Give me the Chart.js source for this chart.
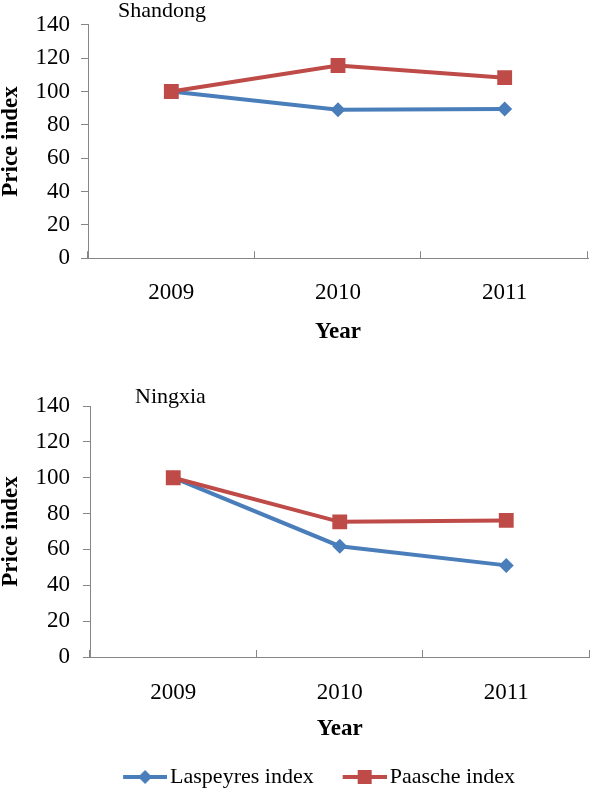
<!DOCTYPE html>
<html>
<head>
<meta charset="utf-8">
<script src="https://cdn.jsdelivr.net/npm/chart.js@4/dist/chart.umd.min.js"></script>
<style>
  html, body { margin: 0; padding: 0; background: #fff; overflow: hidden; width: 600px; height: 793px; }
  canvas { position: absolute; left: 0; }
  #c1 { top: 0; }
  #c2 { top: 377px; }
</style>
</head>
<body>
<canvas id="c1" width="600" height="377"></canvas>
<canvas id="c2" width="600" height="422"></canvas>
<script>
// ---- data ----
const years = ['2009', '2010', '2011'];
const seriesNames = ['Laspeyres index', 'Paasche index'];
const shandongLaspeyres = [100, 89.0, 89.5];
const shandongPaasche = [100, 115.6, 108.3];
const ningxiaLaspeyres = [100, 61.8, 51.1];
const ningxiaPaasche = [100, 75.4, 76.2];
const panelNames = ['Shandong', 'Ningxia'];
const yTicksMin = 0, yTicksMax = 140, yTicksStep = 20;
const xTitle = 'Year';
const yTitle = 'Price index';

// ---- styles ----
const BLUE = '#4A7EBB';
const RED = '#BE4B48';
const AXIS = '#868686';
const FONT = "'Liberation Serif', 'Times New Roman', serif";
const FS = 23;

Chart.defaults.font.family = FONT;
Chart.defaults.color = '#000';

const innerTicks = {
  id: 'innerTicks',
  afterDraw(chart) {
    const xs = chart.scales.x, ctx = chart.ctx, y0 = chart.chartArea.bottom;
    ctx.save();
    ctx.strokeStyle = AXIS; ctx.lineWidth = 1;
    for (let i = 0; i <= xs.ticks.length; i++) {
      const px = Math.round(xs.getPixelForValue(i - 0.5)) - 0.5;
      ctx.beginPath(); ctx.moveTo(px, y0); ctx.lineTo(px, y0 - 7); ctx.stroke();
    }
    ctx.restore();
  }
};

const panelLabel = {
  id: 'panelLabel',
  afterDraw(chart, args, opts) {
    const ctx = chart.ctx;
    ctx.save();
    ctx.font = '22px ' + FONT;
    ctx.fillStyle = '#000';
    ctx.textBaseline = 'alphabetic';
    ctx.textAlign = 'left';
    ctx.fillText(opts.text, chart.chartArea.left + opts.dx, opts.y);
    ctx.restore();
  }
};

function legendImage(color, style) {
  const B = 47, W = B + 16, H = 18;
  const c = document.createElement('canvas');
  c.width = W; c.height = H;
  const g = c.getContext('2d');
  g.strokeStyle = color; g.fillStyle = color; g.lineWidth = 4;
  g.beginPath(); g.moveTo(W - 44, H / 2); g.lineTo(W, H / 2); g.stroke();
  const cx = W - 22, cy = H / 2;
  if (style === 'diamond') {
    g.beginPath();
    g.moveTo(cx, cy - 7); g.lineTo(cx + 7, cy); g.lineTo(cx, cy + 7); g.lineTo(cx - 7, cy);
    g.closePath(); g.fill();
  } else {
    g.fillRect(cx - 7, cy - 7, 14, 14);
  }
  return c;
}

function makeChart(id, lasp, paas, panel, cfg) {
  return new Chart(document.getElementById(id), {
    type: 'line',
    data: {
      labels: years,
      datasets: [
        { label: seriesNames[0], data: lasp, borderColor: BLUE, backgroundColor: BLUE,
          borderWidth: 4, pointStyle: 'rectRot', pointRadius: 7.5, pointHoverRadius: 7.5,
          pointBorderWidth: 0, tension: 0, order: 1 },
        { label: seriesNames[1], data: paas, borderColor: RED, backgroundColor: RED,
          borderWidth: 4, pointStyle: 'rect', pointRadius: 10.5, pointHoverRadius: 10.5,
          pointBorderWidth: 0, tension: 0, order: 0 }
      ]
    },
    options: {
      responsive: false,
      animation: false,
      devicePixelRatio: 1,
      layout: { padding: cfg.padding },
      scales: {
        x: {
          offset: true,
          grid: { display: false, drawTicks: false },
          border: { display: true, color: AXIS, width: 1 },
          ticks: { font: { size: FS }, padding: cfg.xTickPad, color: '#000' },
          title: { display: true, text: xTitle, font: { size: FS, weight: 'bold' }, color: '#000',
                   padding: { top: cfg.xTitleTop, bottom: cfg.xTitleBottom } }
        },
        y: {
          min: yTicksMin, max: yTicksMax,
          grid: { display: true, drawOnChartArea: false, drawTicks: true, tickLength: 7, color: AXIS },
          border: { display: true, color: AXIS, width: 1 },
          ticks: { stepSize: yTicksStep, font: { size: FS }, padding: cfg.yTickPad, color: '#000' },
          title: { display: true, text: yTitle, font: { size: FS, weight: 'bold' }, color: '#000',
                   padding: { top: cfg.yTitleTop, bottom: 0 } },
          afterFit(scale) { scale.width = cfg.yWidth; }
        }
      },
      plugins: {
        tooltip: { enabled: false },
        panelLabel: { text: panel, dx: cfg.labelDx, y: cfg.labelY },
        legend: cfg.legend ? {
          display: true,
          position: 'bottom',
          labels: {
            usePointStyle: true,
            pointStyleWidth: 47,
            padding: 18,
            font: { size: 22 },
            color: '#000',
            generateLabels() {
              return [
                { text: seriesNames[0], pointStyle: legendImage(BLUE, 'diamond'), fillStyle: BLUE,
                  strokeStyle: BLUE, lineWidth: 0, hidden: false, datasetIndex: 0 },
                { text: seriesNames[1], pointStyle: legendImage(RED, 'square'), fillStyle: RED,
                  strokeStyle: RED, lineWidth: 0, hidden: false, datasetIndex: 1 }
              ];
            }
          }
        } : { display: false }
      }
    },
    plugins: [innerTicks, panelLabel]
  });
}

makeChart('c1', shandongLaspeyres, shandongPaasche, panelNames[0], {
  padding: { top: 17, right: 12, bottom: 31, left: 0 },
  xTickPad: 21, xTitleTop: -9.4, xTitleBottom: 0,
  yTickPad: 11, yTitleTop: -3, yWidth: 88,
  labelDx: 30, labelY: 17, legend: false
});

makeChart('c2', ningxiaLaspeyres, ningxiaPaasche, panelNames[1], {
  padding: { top: 29, right: 3, bottom: 1, left: 30 },
  xTickPad: 22, xTitleTop: -13.4, xTitleBottom: 5.2,
  yTickPad: 13, yTitleTop: -33, yWidth: 60,
  labelDx: 45, labelY: 26, legend: true
});
</script>
</body>
</html>
